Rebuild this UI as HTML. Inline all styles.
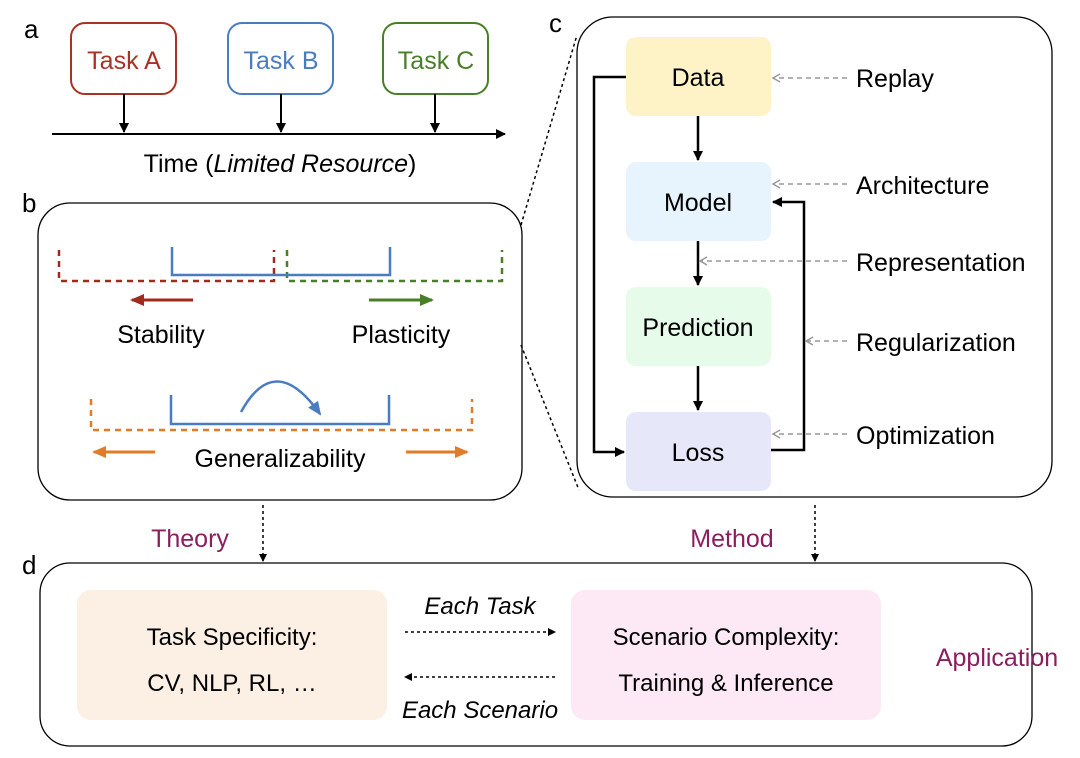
<!DOCTYPE html>
<html><head><meta charset="utf-8"><style>
html,body{margin:0;padding:0;background:#fff}
svg{display:block;font-family:"Liberation Sans",Arial,sans-serif}
</style></head><body>
<svg width="1080" height="758" viewBox="0 0 1080 758" xmlns="http://www.w3.org/2000/svg">
<defs>
<marker id="ab" markerWidth="10" markerHeight="10" refX="9" refY="5" orient="auto" markerUnits="userSpaceOnUse"><path d="M0,0 L10,5 L0,10 z" fill="#000"/></marker>
<marker id="abs" markerWidth="8" markerHeight="8" refX="7" refY="4" orient="auto" markerUnits="userSpaceOnUse"><path d="M0,0 L8,4 L0,8 z" fill="#000"/></marker>
<marker id="ag" markerWidth="10" markerHeight="10" refX="8" refY="5" orient="auto" markerUnits="userSpaceOnUse"><path d="M1,1 L8,5 L1,9" fill="none" stroke="#999" stroke-width="1.5"/></marker>
<marker id="ar" markerWidth="14" markerHeight="12" refX="12" refY="6" orient="auto" markerUnits="userSpaceOnUse"><path d="M0,0 L14,6 L0,12 z" fill="#a02a1e"/></marker>
<marker id="agr" markerWidth="14" markerHeight="12" refX="12" refY="6" orient="auto" markerUnits="userSpaceOnUse"><path d="M0,0 L14,6 L0,12 z" fill="#4a7f2a"/></marker>
<marker id="ao" markerWidth="14" markerHeight="12" refX="12" refY="6" orient="auto" markerUnits="userSpaceOnUse"><path d="M0,0 L14,6 L0,12 z" fill="#e07b2a"/></marker>
<marker id="abl" markerWidth="14" markerHeight="12" refX="12" refY="6" orient="auto" markerUnits="userSpaceOnUse"><path d="M0,0 L14,6 L0,12 z" fill="#4a7cc0"/></marker>
</defs>

<g font-size="26" fill="#000">
<text x="24" y="38">a</text><text x="22" y="212">b</text><text x="549" y="32">c</text><text x="22" y="574">d</text>
</g>

<!-- panel a -->
<rect x="71" y="23" width="105" height="71" rx="14" fill="#fff" stroke="#a93226" stroke-width="2"/>
<text x="124" y="69" font-size="25" fill="#a93226" text-anchor="middle">Task A</text>
<rect x="228" y="23" width="105" height="71" rx="14" fill="#fff" stroke="#4a7cc0" stroke-width="2"/>
<text x="281" y="69" font-size="25" fill="#4a7cc0" text-anchor="middle">Task B</text>
<rect x="383" y="23" width="105" height="71" rx="14" fill="#fff" stroke="#4a7f2a" stroke-width="2"/>
<text x="436" y="69" font-size="25" fill="#4a7f2a" text-anchor="middle">Task C</text>
<g stroke="#000" stroke-width="2">
<line x1="124" y1="94" x2="124" y2="132" marker-end="url(#ab)"/>
<line x1="281" y1="94" x2="281" y2="132" marker-end="url(#ab)"/>
<line x1="435" y1="94" x2="435" y2="132" marker-end="url(#ab)"/>
<line x1="52" y1="134" x2="505" y2="134" marker-end="url(#ab)"/>
</g>
<text x="280" y="172" font-size="25" text-anchor="middle">Time (<tspan font-style="italic">Limited Resource</tspan>)</text>

<!-- panel b -->
<rect x="38" y="203" width="484" height="297" rx="32" fill="#fff" stroke="#000" stroke-width="1.3"/>
<path d="M59,250 V281 H274 V250" fill="none" stroke="#a02a1e" stroke-width="2.5" stroke-dasharray="6,5"/>
<path d="M287,250 V281 H502 V250" fill="none" stroke="#4a7f2a" stroke-width="2.5" stroke-dasharray="6,5"/>
<path d="M172,247 V275 H390 V247" fill="none" stroke="#4a7cc0" stroke-width="2.5"/>
<line x1="193" y1="300" x2="132" y2="300" stroke="#a02a1e" stroke-width="3" marker-end="url(#ar)"/>
<line x1="369" y1="300" x2="432" y2="300" stroke="#4a7f2a" stroke-width="3" marker-end="url(#agr)"/>
<text x="161" y="343" font-size="25" text-anchor="middle">Stability</text>
<text x="401" y="343" font-size="25" text-anchor="middle">Plasticity</text>
<path d="M91,399 V430 H472 V399" fill="none" stroke="#e07b2a" stroke-width="2.5" stroke-dasharray="6,5"/>
<path d="M171,395 V424 H389 V395" fill="none" stroke="#4a7cc0" stroke-width="2.5"/>
<path d="M241,412 Q275,350 320,414" fill="none" stroke="#4a7cc0" stroke-width="2.5" marker-end="url(#abl)"/>
<line x1="155" y1="452" x2="94" y2="452" stroke="#e07b2a" stroke-width="3" marker-end="url(#ao)"/>
<line x1="406" y1="452" x2="467" y2="452" stroke="#e07b2a" stroke-width="3" marker-end="url(#ao)"/>
<text x="280" y="467" font-size="25" text-anchor="middle">Generalizability</text>

<line x1="521" y1="225" x2="577" y2="35" stroke="#000" stroke-width="1.5" stroke-dasharray="3,3"/>
<line x1="521" y1="345" x2="579" y2="490" stroke="#000" stroke-width="1.5" stroke-dasharray="3,3"/>

<!-- panel c -->
<rect x="577" y="17" width="475" height="480" rx="36" fill="#fff" stroke="#000" stroke-width="1.3"/>
<rect x="626" y="37" width="145" height="79" rx="10" fill="#fdf3c6"/>
<rect x="626" y="162" width="145" height="79" rx="10" fill="#e7f4fd"/>
<rect x="626" y="287" width="145" height="79" rx="10" fill="#e7fbeb"/>
<rect x="626" y="412" width="145" height="79" rx="10" fill="#e6e8fa"/>
<g font-size="25" text-anchor="middle">
<text x="698" y="86">Data</text><text x="698" y="211">Model</text><text x="698" y="336">Prediction</text><text x="698" y="461">Loss</text>
</g>
<g stroke="#000" stroke-width="2.5" fill="none">
<line x1="698" y1="116" x2="698" y2="160" marker-end="url(#ab)"/>
<line x1="698" y1="241" x2="698" y2="285" marker-end="url(#ab)"/>
<line x1="698" y1="366" x2="698" y2="410" marker-end="url(#ab)"/>
<path d="M626,77 H594 V452 H624" marker-end="url(#ab)"/>
<path d="M771,450 H804 V202 H773" marker-end="url(#ab)"/>
</g>
<g stroke="#999" stroke-width="1.5" stroke-dasharray="5,4" fill="none">
<line x1="847" y1="78" x2="773" y2="78" marker-end="url(#ag)"/>
<line x1="847" y1="184" x2="773" y2="184" marker-end="url(#ag)"/>
<line x1="847" y1="261" x2="700" y2="261" marker-end="url(#ag)"/>
<line x1="847" y1="341" x2="806" y2="341" marker-end="url(#ag)"/>
<line x1="847" y1="434" x2="773" y2="434" marker-end="url(#ag)"/>
</g>
<g font-size="25">
<text x="856" y="87">Replay</text><text x="856" y="194">Architecture</text><text x="856" y="271">Representation</text><text x="856" y="351">Regularization</text><text x="856" y="444">Optimization</text>
</g>

<text x="190" y="547" font-size="25" fill="#8b1e5e" text-anchor="middle">Theory</text>
<text x="732" y="547" font-size="25" fill="#8b1e5e" text-anchor="middle">Method</text>
<line x1="263" y1="505" x2="263" y2="561" stroke="#000" stroke-width="1.5" stroke-dasharray="3,3" marker-end="url(#abs)"/>
<line x1="815" y1="505" x2="815" y2="561" stroke="#000" stroke-width="1.5" stroke-dasharray="3,3" marker-end="url(#abs)"/>

<!-- panel d -->
<rect x="40" y="563" width="992" height="183" rx="30" fill="#fff" stroke="#000" stroke-width="1.3"/>
<rect x="77" y="590" width="310" height="130" rx="14" fill="#fcefe3"/>
<rect x="571" y="590" width="310" height="130" rx="14" fill="#fde9f6"/>
<g font-size="24" text-anchor="middle">
<text x="232" y="645">Task Specificity:</text><text x="232" y="691">CV, NLP, RL, …</text>
<text x="726" y="645">Scenario Complexity:</text><text x="726" y="691">Training &amp; Inference</text>
<text x="480" y="614" font-style="italic">Each Task</text>
<text x="480" y="718" font-style="italic">Each Scenario</text>
</g>
<line x1="405" y1="632" x2="555" y2="632" stroke="#000" stroke-width="1.5" stroke-dasharray="3,3" marker-end="url(#abs)"/>
<line x1="555" y1="677" x2="405" y2="677" stroke="#000" stroke-width="1.5" stroke-dasharray="3,3" marker-end="url(#abs)"/>
<text x="997" y="666" font-size="25" fill="#8b1e5e" text-anchor="middle">Application</text>
</svg>
</body></html>
